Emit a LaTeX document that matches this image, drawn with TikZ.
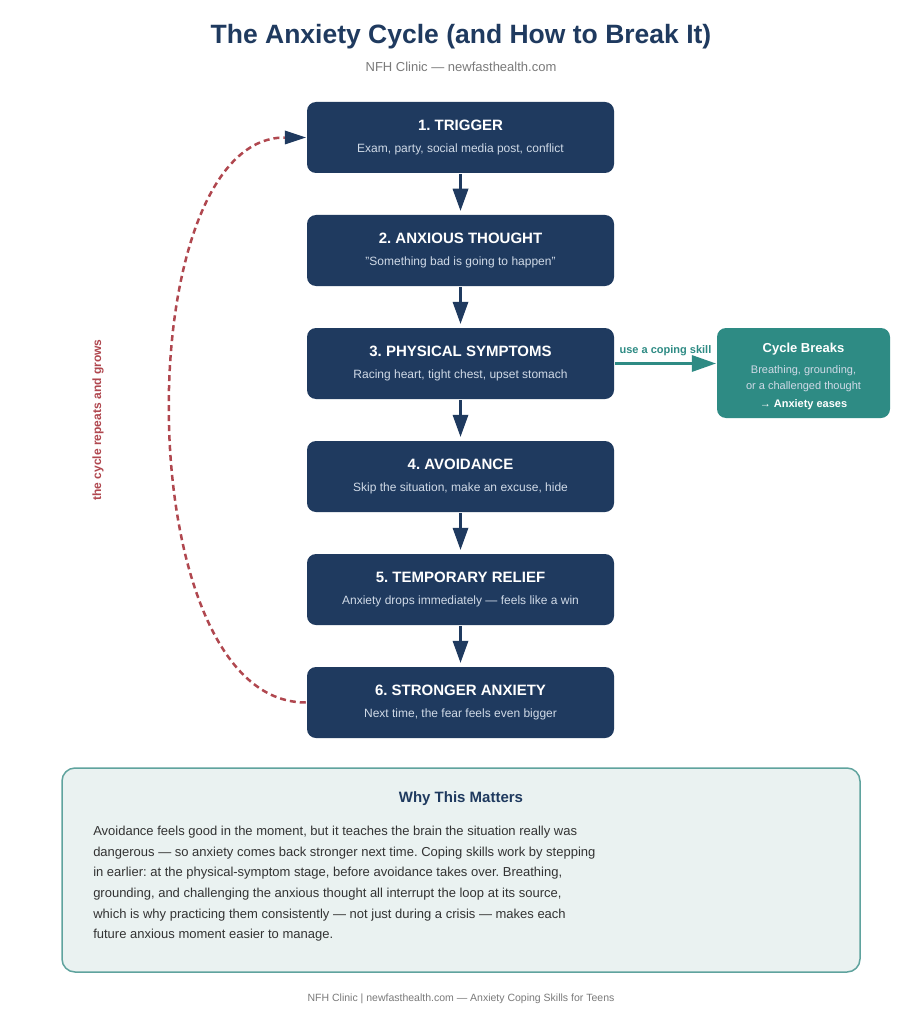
\documentclass[tikz,border=0pt]{standalone}
\usepackage{xcolor}
\usepackage{fontspec}
\setmainfont{Liberation Sans}
\usetikzlibrary{arrows.meta, positioning}
\frenchspacing

\definecolor{navy}{HTML}{1F3A5F}
\definecolor{subtxt}{HTML}{D0DAE7}
\definecolor{teal}{HTML}{2E8B84}
\definecolor{loopred}{HTML}{B0474F}
\definecolor{greytxt}{HTML}{7A7A7A}
\definecolor{paper}{HTML}{EAF2F1}
\definecolor{paperline}{HTML}{5FA39E}
\definecolor{bodytxt}{HTML}{333333}

\newcommand{\steptitle}[2]{{\bfseries\fontsize{15}{18}\selectfont #1}\\[10pt]
  {\fontsize{12}{14}\selectfont\color{subtxt} #2}}

\begin{document}
\begin{tikzpicture}[x=1pt, y=-1pt, >={Triangle[length=22pt, width=16pt, line width=0pt]},
                    auto, node distance=113pt, line width=2.5pt]
\tikzstyle{stepbox}=[rectangle, rounded corners=9pt, fill=navy, text=white,
                    align=center, inner sep=0pt, minimum width=307pt, minimum height=71pt]
\tikzstyle{breakbox}=[rectangle, rounded corners=9pt, fill=teal, text=white,
                    align=center, inner sep=0pt, minimum width=173pt, minimum height=90pt]
\useasboundingbox[fill=white] (0,0) rectangle (922,1024);
  \node[text=navy, font=\bfseries\fontsize{26.5}{30}\selectfont] (title) at (461,37)
    {The Anxiety Cycle (and How to Break It)};
  \node[text=greytxt, font=\fontsize{13}{15}\selectfont] (sub) at (461,67)
    {NFH Clinic — newfasthealth.com};
  %
  \node[stepbox] (T1) at (460.5,137.5) {\steptitle{1. TRIGGER}{Exam, party, social media post, conflict}};
  \node[stepbox] (T2) [below of=T1] {\steptitle{2. ANXIOUS THOUGHT}{"Something bad is going to happen"}};
  \node[stepbox] (T3) [below of=T2] {\steptitle{3. PHYSICAL SYMPTOMS}{Racing heart, tight chest, upset stomach}};
  \node[stepbox] (T4) [below of=T3] {\steptitle{4. AVOIDANCE}{Skip the situation, make an excuse, hide}};
  \node[stepbox] (T5) [below of=T4] {\steptitle{5. TEMPORARY RELIEF}{Anxiety drops immediately — feels like a win}};
  \node[stepbox] (T6) [below of=T5] {\steptitle{6. STRONGER ANXIETY}{Next time, the fear feels even bigger}};
  %
  \node[breakbox] (CB) [right of=T3, node distance=343pt, yshift=-9.5pt]
    {{\bfseries\fontsize{13}{16}\selectfont\rule{0pt}{16.5pt}Cycle Breaks}\\[9pt]
     {\fontsize{11}{16}\selectfont\color{subtxt} Breathing, grounding,}\\[4pt]
     {\fontsize{11}{16}\selectfont\color{subtxt} or a challenged thought}\\[6pt]
     {\bfseries\fontsize{11}{16}\selectfont → Anxiety eases}};
  %
  \path[->, navy, shorten >=3pt] (T1) edge (T2);
  \path[->, navy, shorten >=3pt] (T2) edge (T3);
  \path[->, navy, shorten >=3pt] (T3) edge (T4);
  \path[->, navy, shorten >=3pt] (T4) edge (T5);
  \path[->, navy, shorten >=3pt] (T5) edge (T6);
  %
  \draw[-{Triangle[length=24pt, width=17pt, line width=0pt]}, teal] (T3.east) -- (T3.east -| CB.west)
    node[midway, above=3pt, text=teal, font=\bfseries\fontsize{11}{13}\selectfont] (skill) {use a coping skill};
  %
  \draw[-{Triangle[length=21pt, width=14pt, line width=0pt, color=navy]}, loopred,
        dash pattern=on 6pt off 4pt] (T6.west)
    .. controls +(-179,0) and +(-179,0) .. (T1.west);
  \node[rotate=90, text=loopred, font=\bfseries\fontsize{12}{14}\selectfont] (loop) at (98,420)
    {the cycle repeats and grows};
  %
  \node[rectangle, rounded corners=13pt, draw=paperline, fill=paper, line width=1.5pt,
        minimum width=798pt, minimum height=204pt] (why) at (461,870) {};
  \node[text=navy, font=\bfseries\fontsize{15}{18}\selectfont] (whyt) at (461,799) {Why This Matters};
  \node[anchor=north west, inner sep=0pt, align=left, text=bodytxt,
        font=\fontsize{13}{20.6}\selectfont] (whyx) at (92,825)
    {Avoidance feels good in the moment, but it teaches the brain the situation really was\\
     dangerous — so anxiety comes back stronger next time. Coping skills work by stepping\\
     in earlier: at the physical-symptom stage, before avoidance takes over. Breathing,\\
     grounding, and challenging the anxious thought all interrupt the loop at its source,\\
     which is why practicing them consistently — not just during a crisis — makes each\\
     future anxious moment easier to manage.};
  %
  \node[text=greytxt, font=\fontsize{10.5}{12}\selectfont] (foot) at (461,999)
    {NFH Clinic | newfasthealth.com — Anxiety Coping Skills for Teens};
\end{tikzpicture}
\end{document}
